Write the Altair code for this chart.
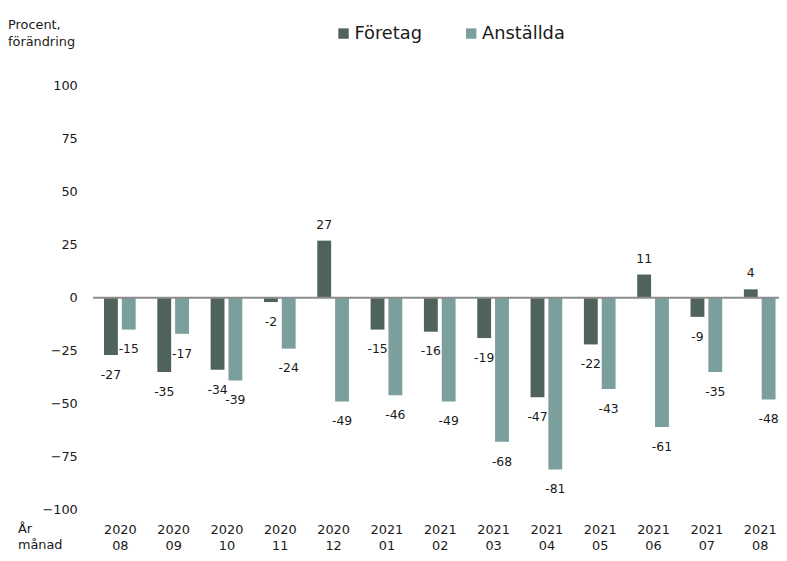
import altair as alt
import pandas as pd
import json

months = ["2020 08", "2020 09", "2020 10", "2020 11", "2020 12", "2021 01", "2021 02",
          "2021 03", "2021 04", "2021 05", "2021 06", "2021 07", "2021 08"]
foretag = [-27, -35, -34, -2, 27, -15, -16, -19, -47, -22, 11, -9, 4]
anstallda = [-15, -17, -39, -24, -49, -46, -49, -68, -81, -43, -61, -35, -48]
series = ["Företag", "Anställda"]
colors = ["#4f635b", "#7a9f9c"]
yticks = [100, 75, 50, 25, 0, -25, -50, -75, -100]

rows = []
for i, m in enumerate(months):
    rows.append({"idx": i, "month": m, "series": series[0], "value": foretag[i], "label": str(foretag[i])})
    rows.append({"idx": i, "month": m, "series": series[1], "value": anstallda[i], "label": str(anstallda[i])})
df = pd.DataFrame(rows)

FONT = "DejaVu Sans"
TXT = "#1a1a1a"

label_expr = "split(" + json.dumps(months) + "[datum.value], ' ')"

xscale = alt.Scale(domain=[-0.501, 12.362], nice=False, zero=False, padding=0)
yscale = alt.Scale(domain=[-100, 100], nice=False, zero=False, padding=0)

xenc = alt.X("idx:Q", scale=xscale,
             axis=alt.Axis(title=None, values=list(range(len(months))), labelExpr=label_expr,
                           labelAngle=0, domain=False, ticks=False, grid=False,
                           labelPadding=14, labelFontSize=13, labelLineHeight=16,
                           labelFont=FONT, labelColor=TXT, labelOverlap=False,
                           labelFlush=False))
yenc = alt.Y("value:Q", scale=yscale,
             axis=alt.Axis(values=yticks, grid=False, domain=False, ticks=False, title=None,
                           labelPadding=16, labelFontSize=13, labelFont=FONT, labelColor=TXT))
cenc = alt.Color("series:N", sort=series, scale=alt.Scale(domain=series, range=colors),
                 legend=alt.Legend(title=None, orient="none", direction="horizontal",
                                   legendX=244, legendY=-62, symbolType="square",
                                   symbolSize=110, symbolStrokeWidth=0, labelFontSize=18,
                                   labelFont=FONT, labelColor=TXT, labelOffset=2,
                                   columnPadding=40, padding=0))

layers = []
for s, off in zip(series, [-9, 9]):
    sub = alt.Chart(df).transform_filter(alt.datum.series == s)
    layers.append(sub.mark_bar(width=14, xOffset=off).encode(x=xenc, y=yenc, color=cenc))
for s, off in zip(series, [-9, 9]):
    sub = alt.Chart(df).transform_filter(alt.datum.series == s)
    layers.append(sub.transform_filter("datum.value < 0").mark_text(
        dx=off, dy=20, fontSize=12.5, font=FONT, color=TXT).encode(
        x=xenc, y=yenc, text="label:N"))
    layers.append(sub.transform_filter("datum.value >= 0").mark_text(
        dx=off, dy=-16, fontSize=12.5, font=FONT, color=TXT).encode(
        x=xenc, y=yenc, text="label:N"))

zero = alt.Chart(pd.DataFrame({"value": [0]})).mark_rule(color="#8c8c8c", strokeWidth=2).encode(
    y=yenc)

ytitle = alt.Chart(pd.DataFrame({"t": ["Procent,\nförändring"]})).mark_text(
    align="left", baseline="middle", fontSize=13, font=FONT, color=TXT,
    lineBreak="\n", lineHeight=18).encode(
    x=alt.value(-86), y=alt.value(-62), text="t:N")

xtitle = alt.Chart(pd.DataFrame({"t": ["År\nmånad"]})).mark_text(
    align="left", baseline="top", fontSize=13, font=FONT, color=TXT,
    lineBreak="\n", lineHeight=16).encode(
    x=alt.value(-76), y=alt.value(442), text="t:N")

chart = alt.layer(layers[0], layers[1], zero, *layers[2:], ytitle, xtitle).properties(
    width=693, height=428, autosize="none",
    padding={"left": 86, "top": 76, "right": 0, "bottom": 41},
).configure_view(stroke=None)

chart.save("out.html", embed_options={"renderer": "svg", "actions": False})
